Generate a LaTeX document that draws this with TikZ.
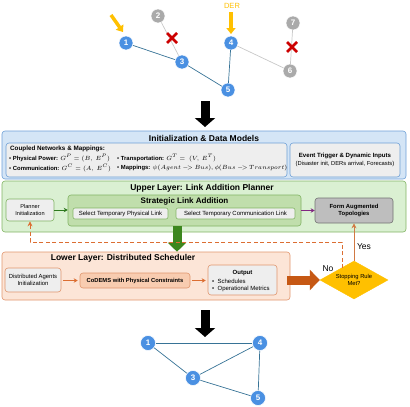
\documentclass[tikz,border=0pt]{standalone}
\usepackage{fontspec}
\setmainfont{Liberation Sans}
\usetikzlibrary{arrows.meta,shapes.geometric,calc}
\definecolor{nodeblue}{RGB}{74,144,226}
\definecolor{nodegray}{RGB}{170,170,170}
\definecolor{edgeblue}{RGB}{55,115,150}
\definecolor{edgegray}{RGB}{200,200,200}
\definecolor{xred}{RGB}{204,0,0}
\definecolor{gold}{RGB}{255,192,0}
\definecolor{blueFill}{RGB}{212,229,246}
\definecolor{blueLine}{RGB}{110,160,215}
\definecolor{greenFill}{RGB}{218,240,210}
\definecolor{greenMid}{RGB}{192,222,172}
\definecolor{greenLine}{RGB}{130,180,100}
\definecolor{greenDark}{RGB}{45,120,30}
\definecolor{greenBig}{RGB}{60,135,30}
\definecolor{orangeFill}{RGB}{252,229,215}
\definecolor{orangeMid}{RGB}{248,204,176}
\definecolor{orangeLine}{RGB}{225,150,110}
\definecolor{orangeDark}{RGB}{198,88,20}
\definecolor{orangeArrow}{RGB}{220,110,50}
\definecolor{innerGray}{RGB}{238,238,238}
\definecolor{formGray}{RGB}{190,190,190}
\definecolor{formLine}{RGB}{115,115,115}
\definecolor{purpleArrow}{RGB}{130,40,130}
\newcommand{\fsz}[2]{\fontsize{#1}{#2}\selectfont}
\begin{document}
\begin{tikzpicture}[x=1pt,y=-1pt,
  gnode/.style={circle, minimum size=14pt, inner sep=0pt, fill=nodeblue, draw=white, line width=0.5pt, text=white, font=\bfseries\fsz{8}{9}},
  gnodegray/.style={gnode, fill=nodegray},
  bedge/.style={draw=edgeblue, line width=0.7pt},
  gedge/.style={draw=edgegray, line width=0.7pt},
  xmark/.style={draw=xred, line width=2.6pt},
  yarrow/.style={draw=gold, line width=3.5pt, -{Triangle[width=9pt,length=6pt]}},
  bigblack/.style={draw=black, line width=9pt, -{Triangle[width=20pt,length=9pt]}},
  box/.style={rounded corners=3pt, line width=0.6pt, inner sep=0pt},
  txt/.style={inner sep=0pt, align=center},
  smallarrow/.style={line width=0.9pt, -{Stealth[length=4pt,width=4.5pt]}}
]
\useasboundingbox (0,0) rectangle (410,407);

% ---------- top graph ----------
\node[gnode] (g1) at (126,43) {1};
\node[gnodegray] (g2) at (158,16) {2};
\node[gnode] (g3) at (182,62) {3};
\node[gnode] (g4) at (231,43) {4};
\node[gnode] (g5) at (228,90) {5};
\node[gnodegray] (g6) at (290,71) {6};
\node[gnodegray] (g7) at (293,23) {7};
\draw[bedge] (g1) -- (g3);
\draw[bedge] (g3) -- (g5);
\draw[bedge] (g5) -- (g4);
\draw[gedge] (g2) -- (g3);
\draw[gedge] (g4) -- (g6);
\draw[gedge] (g6) -- (g7);
\coordinate (x1) at (172,38);
\coordinate (x2) at (292,47);
\draw[xmark] ($(x1)+(-5,-5)$) -- ($(x1)+(5,5)$);
\draw[xmark] ($(x1)+(-5,5)$) -- ($(x1)+(5,-5)$);
\draw[xmark] ($(x2)+(-5,-5)$) -- ($(x2)+(5,5)$);
\draw[xmark] ($(x2)+(-5,5)$) -- ($(x2)+(5,-5)$);
\coordinate (ya1) at (111,15);
\coordinate (ya2) at (123,32);
\draw[yarrow] (ya1) -- (ya2);
\node[txt, text=gold, font=\fsz{7.5}{8}] (der) at (232,5.5) {DER};
\coordinate (yb1) at (231,12);
\coordinate (yb2) at (231,34);
\draw[yarrow] (yb1) -- (yb2);

% ---------- black arrow 1 ----------
\coordinate (ba1) at (205,101);
\coordinate (ba2) at (205,127);
\draw[bigblack] (ba1) -- (ba2);

% ---------- Initialization box ----------
\node[box, fill=blueFill, draw=blueLine, minimum width=404pt, minimum height=48pt] (initOuter) at (204,155) {};
\node[txt, font=\bfseries\fsz{8.5}{10}] (initTitle) at (204,138) {Initialization \& Data Models};
\node[box, fill=innerGray, draw=blueLine, minimum width=281pt, minimum height=34pt] (coupled) at (146.5,160) {};
\node[box, fill=innerGray, draw=blueLine, minimum width=110pt, minimum height=34pt] (event) at (345,160) {};
\node[txt, anchor=west, font=\bfseries\fsz{6.3}{7}] (cnTitle) at (10,149) {Coupled Networks \& Mappings:};
\node[txt, anchor=west, font=\fsz{5.9}{7}] (pp) at (9,158) {•\ \textbf{Physical Power:} $G^P = (B,\ E^P)$};
\node[txt, anchor=west, font=\fsz{5.9}{7}] (comm) at (9,168) {•\ \textbf{Communication:} $G^C = (A,\ E^C)$};
\node[txt, anchor=west, font=\fsz{5.9}{7}] (tr) at (117,158) {•\ \textbf{Transportation:} $G^T =\ (V,\ E^T)$};
\node[txt, anchor=west, font=\fsz{5.9}{7}] (map) at (117,168) {•\ \textbf{Mappings:} $\psi(Agent\ {-}{\!>}\ Bus)$, $\phi(Bus\ {-}{\!>}\ Transport)$};
\node[txt, font=\bfseries\fsz{6.1}{7}] (evT) at (345,156) {Event Trigger \& Dynamic Inputs};
\node[txt, font=\fsz{5.8}{7}] (evS) at (345,163.5) {(Disaster init, DERs arrival, Forecasts)};

% ---------- Upper layer ----------
\node[box, fill=greenFill, draw=greenLine, minimum width=404pt, minimum height=51pt] (upOuter) at (204,206.5) {};
\node[txt, font=\bfseries\fsz{8.5}{10}] (upTitle) at (202,188) {Upper Layer: Link Addition Planner};
\node[box, fill=innerGray, draw=greenLine, minimum width=48pt, minimum height=22pt] (planner) at (30,210) {};
\node[txt, font=\fsz{5.6}{7}] at (planner) {Planner\\Initialization};
\node[box, fill=greenMid, draw=greenLine, minimum width=233pt, minimum height=31pt] (strategic) at (184.5,210.5) {};
\node[txt, font=\bfseries\fsz{8}{9}] (stTitle) at (184.5,201) {Strategic Link Addition};
\node[box, rounded corners=2pt, fill=innerGray, draw=greenLine, minimum width=95pt, minimum height=11pt, font=\fsz{6}{7}] (selPhys) at (120.5,213.5) {Select Temporary Physical Link};
\node[box, rounded corners=2pt, fill=innerGray, draw=greenLine, minimum width=119pt, minimum height=11pt, font=\fsz{6}{7}] (selComm) at (235.5,213.5) {Select Temporary Communication Link};
\node[box, fill=formGray, draw=formLine, minimum width=78pt, minimum height=25pt] (form) at (354,210.5) {};
\node[txt, font=\bfseries\fsz{5.9}{7.5}] at (form) {Form Augmented\\Topologies};
\draw[smallarrow, draw=greenDark] (planner.east) -- (strategic.west |- planner.east);
\draw[smallarrow, draw=purpleArrow] (strategic.east |- form.west) -- (form.west);

% ---------- Lower layer ----------
\node[box, fill=orangeFill, draw=orangeLine, minimum width=288pt, minimum height=48pt] (lowOuter) at (146,276) {};
\node[txt, font=\bfseries\fsz{8.5}{10}] (lowTitle) at (123,258) {Lower Layer: Distributed Scheduler};
\node[box, fill=innerGray, draw=orangeLine, minimum width=56pt, minimum height=24pt] (agents) at (33,280) {};
\node[txt, font=\fsz{5.9}{7.5}] at (agents) {Distributed Agents\\Initialization};
\node[box, fill=orangeMid, draw=orangeLine, minimum width=110pt, minimum height=15pt, font=\bfseries\fsz{5.8}{7}] (codems) at (135,280.5) {CoDEMS with Physical Constraints};
\node[box, fill=innerGray, draw=orangeLine, minimum width=69pt, minimum height=30pt] (output) at (242.5,280) {};
\node[txt, font=\bfseries\fsz{6}{7}] at (242.5,273) {Output};
\node[txt, anchor=west, font=\fsz{6}{7}] at (212,281) {•\ \ Schedules};
\node[txt, anchor=west, font=\fsz{6}{7}] at (212,289) {•\ \ Operational Metrics};
\draw[smallarrow, draw=orangeArrow] ([xshift=2pt]agents.east |- codems.west) -- ([xshift=-2pt]codems.west);
\draw[smallarrow, draw=orangeArrow] ([xshift=2pt]codems.east) -- ([xshift=-2pt]output.west |- codems.east);

% big green arrow
\coordinate (gaTop) at (177,226);
\draw[draw=greenBig, line width=9pt, -{Triangle[width=18pt,length=9pt]}] (gaTop) -- (gaTop |- lowOuter.north);

% diamond
\node[diamond, fill=gold, draw=gold, minimum width=68pt, minimum height=38pt, inner sep=0pt] (dia) at (354,280) {};
\node[txt, font=\fsz{5.8}{7.5}] at (dia) {Stopping Rule\\Met?};
% big orange arrow
\coordinate (oaStart) at (287,280);
\draw[draw=orangeDark, line width=9pt, -{Triangle[width=20pt,length=10pt]}] (oaStart) -- (dia.west);

% Yes
\draw[line width=1pt, draw=orangeDark!80, -{Stealth[length=5pt,width=5pt]}] (dia.north) -- (form.south);
\node[txt, font=\fsz{8.5}{9}] (yes) at (364,247) {Yes};
% No
\coordinate (noStart) at (342,268);
\draw[line width=1pt, draw=orangeArrow, dash pattern=on 4pt off 2.5pt, -{Stealth[length=5pt,width=5pt]}] (noStart) -- (342,242) -- (30,242) -- (planner.south);
\node[txt, font=\fsz{8.5}{9}] (no) at (328,269) {No};

% ---------- black arrow 2 ----------
\coordinate (bb1) at (205,310);
\coordinate (bb2) at (205,337);
\draw[bigblack] (bb1) -- (bb2);

% ---------- bottom graph ----------
\node[gnode, minimum size=15pt] (h1) at (148,343) {1};
\node[gnode, minimum size=15pt] (h4) at (260,343) {4};
\node[gnode, minimum size=15pt] (h3) at (193,378) {3};
\node[gnode, minimum size=15pt] (h5) at (258,398) {5};
\draw[bedge] (h1) -- (h4);
\draw[bedge] (h1) -- (h3);
\draw[bedge] (h3) -- (h4);
\draw[bedge] (h3) -- (h5);
\draw[bedge] (h4) -- (h5);
\end{tikzpicture}
\end{document}
